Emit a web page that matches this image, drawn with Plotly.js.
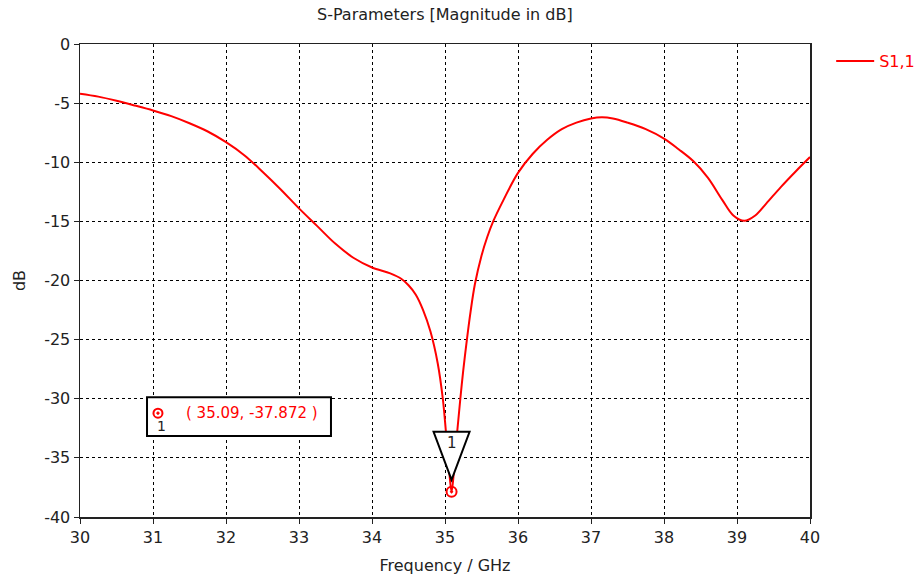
<!DOCTYPE html>
<html>
<head>
<meta charset="utf-8">
<script src="https://cdn.plot.ly/plotly-3.0.1.min.js"></script>
<style>html,body{margin:0;padding:0;background:#fff;}#chart{width:921px;height:583px;}</style>
</head>
<body>
<div id="chart"></div>
<script>
const freqGHz = [30.0, 30.25, 30.5, 30.75, 31.0, 31.25, 31.5, 31.75, 32.0, 32.25, 32.5, 32.75, 33.0, 33.25, 33.5, 33.75, 34.0, 34.25, 34.4, 34.5, 34.6, 34.7, 34.8, 34.9, 34.97, 35.01, 35.05, 35.09, 35.13, 35.17, 35.21, 35.25, 35.3, 35.35, 35.41, 35.5, 35.58, 35.66, 35.8, 36.0, 36.2, 36.4, 36.6, 36.8, 37.0, 37.15, 37.3, 37.5, 37.75, 38.0, 38.2, 38.4, 38.6, 38.8, 38.95, 39.1, 39.25, 39.4, 39.6, 39.8, 40.0];
const s11dB = [-4.2, -4.45, -4.8, -5.2, -5.62, -6.1, -6.7, -7.4, -8.3, -9.4, -10.8, -12.3, -13.9, -15.4, -16.9, -18.1, -18.9, -19.4, -19.85, -20.4, -21.2, -22.5, -24.3, -27.0, -30.0, -32.6, -35.5, -37.872, -35.5, -32.6, -30.0, -27.6, -25.0, -22.65, -20.3, -17.9, -16.3, -15.0, -13.2, -10.9, -9.3, -8.1, -7.2, -6.65, -6.3, -6.2, -6.3, -6.65, -7.2, -8.0, -8.9, -9.9, -11.3, -13.2, -14.5, -14.95, -14.5, -13.5, -12.1, -10.8, -9.56];
const seriesName = "S1,1";
const markerFreq = [35.09];
const markerDB = [-37.872];
const markerLabel = "1";
const markerText = "( 35.09, -37.872 )";
const xTicks = [30, 31, 32, 33, 34, 35, 36, 37, 38, 39, 40];
const yTicks = [0, -5, -10, -15, -20, -25, -30, -35, -40];

const FONT = "DejaVu Sans, Verdana, sans-serif";
const traces = [
  {x: freqGHz, y: s11dB, type: "scatter", mode: "lines", name: seriesName,
   line: {color: "#ff0000", width: 2, shape: "spline", smoothing: 1}},
  {x: markerFreq, y: markerDB, type: "scatter", mode: "markers", showlegend: false,
   marker: {symbol: "circle-open-dot", size: 10, color: "#ff0000", line: {width: 2, color: "#ff0000"}}, hoverinfo: "skip"}
];
const axisCommon = {
  showline: true, mirror: true, linecolor: "#222", linewidth: 1.5,
  ticks: "outside", ticklen: 5, tickcolor: "#222", tickwidth: 1,
  showgrid: true, gridcolor: "#000", gridwidth: 1, griddash: "3px,3px",
  zeroline: false, tickfont: {family: FONT, size: 16, color: "#222"}
};
const layout = {
  width: 921, height: 583,
  margin: {l: 80, r: 111, t: 44, b: 66, autoexpand: false},
  paper_bgcolor: "#fff", plot_bgcolor: "#fff",
  title: {text: "S-Parameters [Magnitude in dB]", font: {family: FONT, size: 16, color: "#222"}, x: 0.483, xanchor: "center", y: 0.975, yanchor: "middle"},
  xaxis: Object.assign({}, axisCommon, {range: [30, 40], tickvals: xTicks, ticktext: xTicks.map(String),
    title: {text: "Frequency / GHz", font: {family: FONT, size: 16, color: "#222"}, standoff: 14}}),
  yaxis: Object.assign({}, axisCommon, {range: [-40, 0], tickvals: yTicks, ticktext: yTicks.map(String),
    title: {text: "dB", font: {family: FONT, size: 16, color: "#222"}, standoff: 14}}),
  showlegend: true,
  legend: {x: 1.029, y: 1.0, xanchor: "left", yanchor: "top", bgcolor: "rgba(0,0,0,0)", itemwidth: 38,
    font: {family: FONT, size: 16, color: "#ff0000"}},
  shapes: [
    {type: "path", xref: "x", yref: "y", xsizemode: "pixel", ysizemode: "pixel",
     xanchor: markerFreq[0], yanchor: markerDB[0],
     path: "M -18,60 L 18,60 L 0,12 Z", fillcolor: "#fff", line: {color: "#000", width: 2}},
    {type: "rect", xref: "paper", yref: "paper", x0: 0.0918, x1: 0.3438, y0: 0.1711, y1: 0.2534,
     fillcolor: "#fff", line: {color: "#000", width: 2}},
    {type: "circle", xref: "paper", yref: "paper", xsizemode: "pixel", ysizemode: "pixel",
     xanchor: 0.1068, yanchor: 0.2196, x0: -4.5, x1: 4.5, y0: -4.5, y1: 4.5,
     fillcolor: "rgba(0,0,0,0)", line: {color: "#ff0000", width: 2}},
    {type: "circle", xref: "paper", yref: "paper", xsizemode: "pixel", ysizemode: "pixel",
     xanchor: 0.1068, yanchor: 0.2196, x0: -1.2, x1: 1.2, y0: -1.2, y1: 1.2,
     fillcolor: "#ff0000", line: {color: "#ff0000", width: 1}}
  ],
  annotations: [
    {x: markerFreq[0], y: markerDB[0], xref: "x", yref: "y", text: markerLabel, showarrow: false,
     yshift: 49, font: {family: FONT, size: 15, color: "#222"}},
    {xref: "paper", yref: "paper", x: 0.1123, y: 0.1922, xanchor: "center", yanchor: "middle",
     showarrow: false, text: markerLabel, font: {family: FONT, size: 14, color: "#222"}},
    {xref: "paper", yref: "paper", x: 0.1425, y: 0.2196, xanchor: "left", yanchor: "middle",
     showarrow: false, text: markerText, font: {family: FONT, size: 15, color: "#ff0000"}}
  ]
};
Plotly.newPlot("chart", traces, layout, {displayModeBar: false, staticPlot: true});
</script>
</body>
</html>
